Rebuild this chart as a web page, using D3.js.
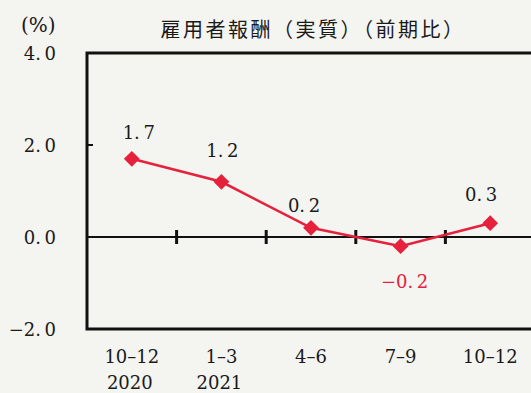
<!DOCTYPE html>
<html lang="ja">
<head>
  <meta charset="UTF-8">
  <title>雇用者報酬（実質）</title>
  <script src="https://cdn.jsdelivr.net/npm/d3@7"></script>
  <style>
    body { margin: 0; background: #f4f4f1; }
    svg { display: block; }
    .num { font-family: "DejaVu Serif", "Liberation Serif", serif; font-size: 18px; white-space: pre; }
    .jp { font-family: "Noto Sans CJK JP", sans-serif; font-size: 20px; letter-spacing: 2.5px; }
  </style>
</head>
<body>
  <script>
    var quarters = ["10–12", "1–3", "4–6", "7–9", "10–12"];
    var years = ["2020", "2021", "", "", ""];
    var values = [1.7, 1.2, 0.2, -0.2, 0.3];
    var yTicks = [-2, 0, 2, 4];

    var w = 531, h = 393;
    var red = "#e5213c";
    var ink = "#1a1a1a";

    // hand placement of the value labels, as in the print
    var labelNudge = [[7, -20], [1, -25], [-7, -16], [4, 42], [-9, -22]];

    // "1.7" -> "1. 7" like the original print
    function fmt(d) {
      return d.toFixed(1).replace("-", "\u2212").replace(".", ".\u2009");
    }

    var svg = d3.select("body").append("svg")
      .attr("width", w)
      .attr("height", h);

    var x = d3.scaleBand()
      .domain(d3.range(quarters.length))
      .range([87, 535]);

    var y = d3.scaleLinear()
      .domain([-2, 4])
      .range([329, 53]);

    var cx = function(i) { return x(i) + x.bandwidth() / 2; };

    // title + unit
    svg.append("text").attr("class", "jp")
      .attr("x", 313).attr("y", 37)
      .attr("text-anchor", "middle")
      .attr("fill", ink)
      .text("雇用者報酬（実質）（前期比）");
    svg.append("text").attr("class", "num")
      .attr("x", 21).attr("y", 32)
      .attr("fill", ink)
      .style("font-size", "20px")
      .text("(%)");

    // frame
    svg.append("rect")
      .attr("x", x.range()[0]).attr("y", y(4))
      .attr("width", x.range()[1] - x.range()[0])
      .attr("height", y(-2) - y(4))
      .attr("fill", "none")
      .attr("stroke", "#111")
      .attr("stroke-width", 3);

    // y labels
    svg.selectAll(".ylab")
      .data(yTicks)
      .enter().append("text")
      .attr("class", "num")
      .attr("x", 56)
      .attr("y", function(d) { return y(d) + 7; })
      .attr("text-anchor", "end")
      .attr("fill", ink)
      .text(fmt);

    // inner tick at 2.0
    svg.append("line")
      .attr("x1", 87).attr("x2", 93)
      .attr("y1", y(2)).attr("y2", y(2))
      .attr("stroke", "#111").attr("stroke-width", 2);

    // zero line
    svg.append("line")
      .attr("x1", 87).attr("x2", w)
      .attr("y1", y(0)).attr("y2", y(0))
      .attr("stroke", "#111").attr("stroke-width", 2);

    // category boundary ticks on zero line
    svg.selectAll(".xtick")
      .data(d3.range(1, quarters.length))
      .enter().append("line")
      .attr("x1", function(d) { return x(d); })
      .attr("x2", function(d) { return x(d); })
      .attr("y1", y(0) - 7).attr("y2", y(0) + 7)
      .attr("stroke", "#111").attr("stroke-width", 3);

    // x labels
    svg.selectAll(".qlab")
      .data(quarters)
      .enter().append("text")
      .attr("class", "num")
      .attr("x", function(d, i) { return cx(i); })
      .attr("y", 363)
      .attr("text-anchor", "middle")
      .attr("fill", ink)
      .text(function(d) { return d; });
    svg.selectAll(".yrlab")
      .data(years)
      .enter().append("text")
      .attr("class", "num")
      .attr("x", function(d, i) { return cx(i) - 2; })
      .attr("y", 389)
      .attr("text-anchor", "middle")
      .attr("fill", ink)
      .text(function(d) { return d; });

    // line
    var line = d3.line()
      .x(function(d, i) { return cx(i); })
      .y(function(d) { return y(d); });

    svg.append("path")
      .datum(values)
      .attr("d", line)
      .attr("fill", "none")
      .attr("stroke", red)
      .attr("stroke-width", 2.5);

    svg.selectAll(".pt")
      .data(values)
      .enter().append("path")
      .attr("d", d3.symbol().type(d3.symbolSquare).size(125))
      .attr("transform", function(d, i) {
        return "translate(" + cx(i) + "," + y(d) + ") rotate(45)";
      })
      .attr("fill", red);

    svg.selectAll(".vlab")
      .data(values)
      .enter().append("text")
      .attr("class", "num")
      .attr("x", function(d, i) { return cx(i) + labelNudge[i][0]; })
      .attr("y", function(d, i) { return y(d) + labelNudge[i][1]; })
      .attr("text-anchor", "middle")
      .attr("fill", function(d) { return d < 0 ? red : ink; })
      .text(fmt);
  </script>
</body>
</html>
